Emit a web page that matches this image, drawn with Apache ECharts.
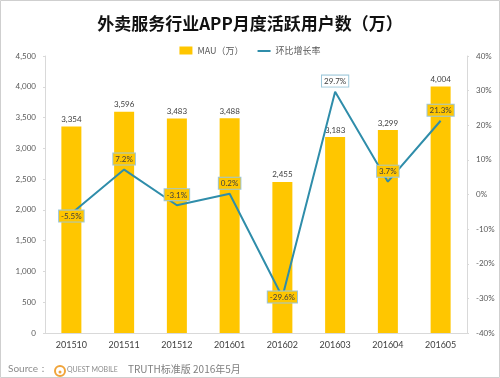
<!DOCTYPE html>
<html><head><meta charset="utf-8">
<script src="https://cdn.jsdelivr.net/npm/echarts@6/dist/echarts.min.js"></script>
<style>html,body{margin:0;padding:0;background:#fff}#c{width:500px;height:378px}</style>
</head><body><div id="c"></div>
<script>
var categories = ['201510','201511','201512','201601','201602','201603','201604','201605'];
var mauValues = [3354, 3596, 3483, 3488, 2455, 3183, 3299, 4004];
var growthValues = [-5.5, 7.2, -3.1, 0.2, -29.6, 29.7, 3.7, 21.3];
var growthLabelPos = ['bottom','top','top','top','inside','top','top','top'];
var leftTicks = [0, 500, 1000, 1500, 2000, 2500, 3000, 3500, 4000, 4500];
var rightTicks = [-40, -30, -20, -10, 0, 10, 20, 30, 40];

var chart = echarts.init(document.getElementById('c'), null, {renderer:'canvas'});
var numFont = 'Lato, "Noto Sans", sans-serif';
var cjkFont = '"Noto Sans CJK SC", sans-serif';
var barColor = '#FFC600';
var lineData = growthValues.map(function(v, i){
  var pos = growthLabelPos[i];
  var overBar = (i !== 5);
  return {value: v, label: {position: pos, distance: pos === 'bottom' ? -3 : 5,
    backgroundColor: overBar ? barColor : '#ffffff'}};
});
chart.setOption({
  animation: false,
  title: {
    text: '外卖服务行业APP月度活跃用户数（万）',
    left: 'center', top: 10,
    textStyle: {fontFamily: cjkFont, fontSize: 17, fontWeight: 'bold', color: '#111'}
  },
  legend: {
    top: 41, left: 'center', itemGap: 14, itemWidth: 13, itemHeight: 8,
    textStyle: {fontFamily: cjkFont, fontSize: 9, color: '#595959'},
    data: [{name: 'MAU（万）', icon: 'rect'}, {name: '环比增长率', icon: 'path://M0,3.5L13,3.5L13,5.5L0,5.5L0,3.5M0,0L0.01,0M0,8L0.01,8'}]
  },
  grid: {left: 45, right: 33, top: 56, bottom: 45, containLabel: false},
  xAxis: {
    type: 'category', data: categories,
    axisLine: {lineStyle: {color: '#d9d9d9'}},
    axisTick: {show: false},
    axisLabel: {fontFamily: numFont, fontSize: 9, color: '#404040', margin: 8}
  },
  yAxis: [{
    type: 'value', min: leftTicks[0], max: leftTicks[leftTicks.length-1], interval: 500,
    axisLine: {show: true, lineStyle: {color: '#d9d9d9'}},
    axisTick: {show: true, length: 2, lineStyle: {color: '#d9d9d9'}},
    splitLine: {show: false},
    axisLabel: {fontFamily: numFont, fontSize: 8, color: '#595959', margin: 9,
      formatter: function(v){ return v.toLocaleString('en-US'); }}
  }, {
    type: 'value', min: rightTicks[0], max: rightTicks[rightTicks.length-1], interval: 10,
    axisLine: {show: true, lineStyle: {color: '#d9d9d9'}},
    axisTick: {show: true, length: 2, lineStyle: {color: '#d9d9d9'}},
    splitLine: {show: false},
    axisLabel: {fontFamily: numFont, fontSize: 8, color: '#595959', margin: 9,
      formatter: function(v){ return v + '%'; }}
  }],
  series: [{
    name: 'MAU（万）', type: 'bar', data: mauValues, barWidth: 20,
    itemStyle: {color: barColor},
    label: {show: true, position: 'top', distance: 3, fontFamily: numFont, fontSize: 8, color: '#404040',
      formatter: function(p){ return p.value.toLocaleString('en-US'); }}
  }, {
    name: '环比增长率', type: 'line', yAxisIndex: 1, data: lineData,
    symbol: 'circle', showSymbol: true, symbolSize: 0.1,
    lineStyle: {color: '#2F8DAA', width: 2},
    itemStyle: {color: '#2F8DAA'},
    label: {show: true, fontFamily: numFont, fontSize: 8, color: '#404040',
      borderColor: '#9CC7DA', borderWidth: 1, padding: [2, 2, 1, 2],
      formatter: function(p){ return p.value + '%'; }}
  }],
  graphic: [
    {type: 'rect', shape: {x: 0.5, y: 0.5, width: 499, height: 377}, style: {fill: 'none', stroke: '#cfcfcf', lineWidth: 1}, silent: true},
    {type: 'text', left: 8, top: 364, style: {text: 'Source：', fontFamily: numFont, fontSize: 10, fill: '#8c8c8c'}},
    {type: 'circle', shape: {cx: 60, cy: 371, r: 5}, style: {fill: 'none', stroke: '#F0A43A', lineWidth: 2}},
    {type: 'circle', shape: {cx: 60, cy: 372, r: 1.5}, style: {fill: '#F0A43A'}},
    {type: 'text', left: 67, top: 366, style: {text: 'QUEST MOBILE', fontFamily: numFont, fontSize: 7, fill: '#8c8c8c'}},
    {type: 'text', left: 128, top: 364, style: {text: 'TRUTH标准版 2016年5月', fontFamily: cjkFont, fontSize: 10, fill: '#7f7f7f'}}
  ]
});
</script></body></html>
